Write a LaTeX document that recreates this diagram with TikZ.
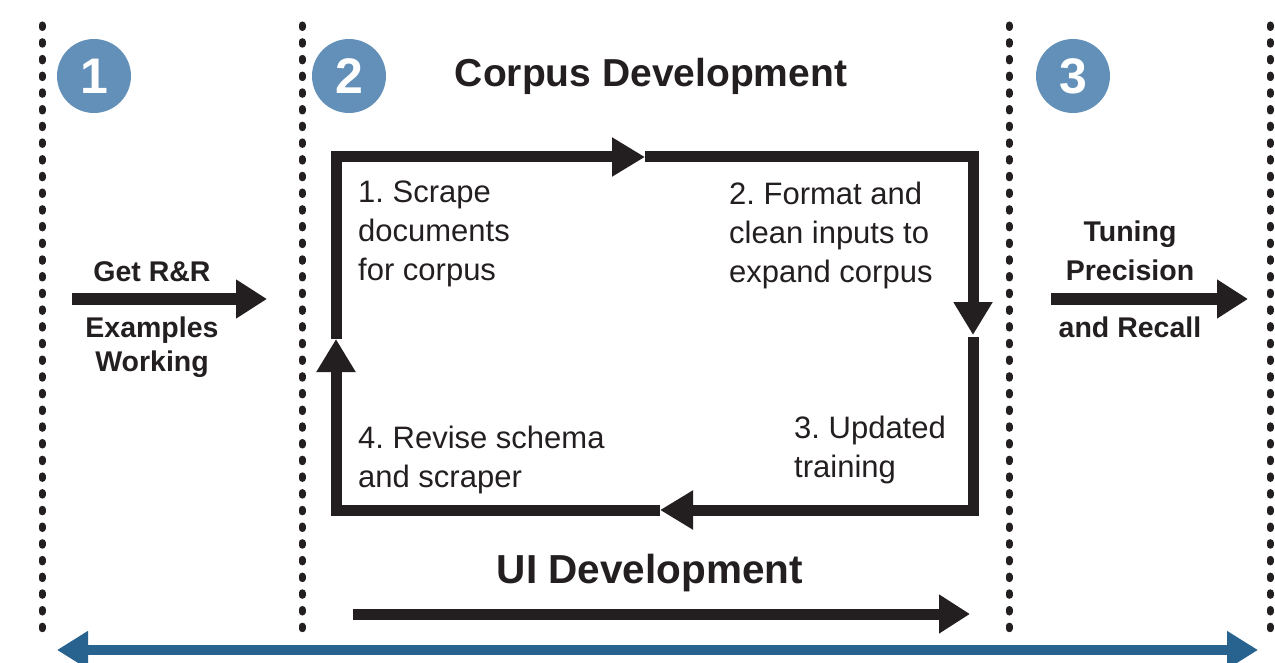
\documentclass[tikz,border=0pt]{standalone}
\usepackage{fontspec}
\setmainfont{Liberation Sans}
\usetikzlibrary{arrows.meta}
\definecolor{badgeblue}{HTML}{6290B8}
\definecolor{spanblue}{HTML}{28628F}
\definecolor{ink}{HTML}{231F20}
\frenchspacing

\begin{document}
\begin{tikzpicture}[x=1pt,y=-1pt,
  dots/.style={line width=7pt, line cap=round, dash pattern=on 2.5pt off 14.2pt, ink},
  badge/.style={circle, fill=badgeblue, minimum size=74pt, inner sep=0pt, text=white,
    font=\bfseries\fontsize{50}{50}\selectfont},
  title/.style={inner sep=0pt, anchor=base, ink, font=\bfseries\fontsize{39}{40}\selectfont},
  lbl/.style={inner sep=0pt, anchor=base, ink, font=\bfseries\fontsize{28.5}{32}\selectfont},
  % anchored at the baseline of the last line
  bodytext/.style={inner sep=0pt, anchor=base west, align=left, ink,
    font=\fontsize{31}{39}\selectfont},
  loopline/.style={line width=11pt, ink, line join=miter},
  head/.style={-{Triangle[length=33pt,width=37pt]}},
  bar/.style={line width=11pt, ink, -{Triangle[length=31pt,width=37pt]}},
]
\useasboundingbox (0,0) rectangle (1275,663);

% phase separators
\foreach \x in {42,302,1009,1270}
  \draw[dots] (\x,25) -- (\x,632);

% phase badges
\node[badge] (b1) at (94,76) {1};
\node[badge] (b2) at (349,76) {2};
\node[badge] (b3) at (1073,76) {3};

% titles
\node[title] (corpus) at (651,87) {Corpus Development};
\node[title, font=\bfseries\fontsize{40.5}{42}\selectfont] (ui) at (650,583) {UI Development};

% phase 1
\node[lbl] (get) at (152,281) {Get R\&R};
\node[lbl] (examples) at (152,337) {Examples};
\node[lbl] (working) at (152,371) {Working};
\coordinate (g0) at (72,299);
\coordinate (g1) at (267,299);
\draw[bar] (g0) -- (g1);

% phase 3
\node[lbl] (tuning) at (1130,242) {Tuning};
\node[lbl] (precision) at (1130,280) {Precision};
\node[lbl] (recall) at (1130,337) {and Recall};
\coordinate (t0) at (1051,299);
\coordinate (t1) at (1248,299);
\draw[bar] (t0) -- (t1);

% corpus development loop
\coordinate (tl) at (336,157);
\coordinate (tm) at (645,157);
\coordinate (tr) at (973,157);
\coordinate (rm) at (973,335);
\coordinate (rm2) at (973,337);
\coordinate (br) at (973,510);
\coordinate (bm) at (660,510);
\coordinate (bl) at (336,510);
\coordinate (lm) at (336,339);
\draw[loopline, head] (lm) -- (tl) -- (tm);
\draw[loopline, head] (tm) -- (tr) -- (rm);
\draw[loopline, head] (rm2) -- (br) -- (bm);
\draw[loopline, head] (bm) -- (bl) -- (lm);

\node[bodytext] (s1) at (358,280) {1. Scrape\\documents\\for corpus};
\node[bodytext] (s2) at (729,283) {2. Format and\\clean inputs to\\expand corpus};
\node[bodytext] (s3) at (794,477) {3. Updated\\training};
\node[bodytext] (s4) at (358,487) {4. Revise schema\\and scraper};

% UI development arrow
\coordinate (u0) at (353,614);
\coordinate (u1) at (970,614);
\draw[bar] (u0) -- (u1);

% whole-project span
\coordinate (p0) at (57,650);
\coordinate (p1) at (1258,650);
\draw[line width=10pt, spanblue, {Triangle[length=31pt,width=36pt]}-{Triangle[length=31pt,width=36pt]}] (p0) -- (p1);
\end{tikzpicture}
\end{document}
